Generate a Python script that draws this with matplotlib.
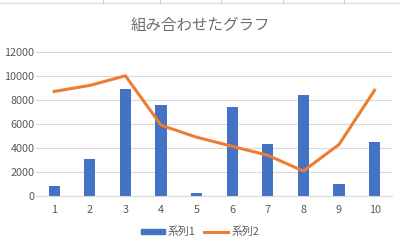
import matplotlib
matplotlib.use("Agg")
import matplotlib.pyplot as plt
from matplotlib.lines import Line2D

plt.rcParams['font.family'] = ['Noto Sans CJK JP', 'DejaVu Sans']

categories = [1, 2, 3, 4, 5, 6, 7, 8, 9, 10]
series1 = [850, 3100, 8900, 7600, 300, 7400, 4300, 8400, 1000, 4500]
series2 = [8700, 9200, 10000, 5900, 4900, 4150, 3400, 2100, 4300, 8800]
yticks = [0, 2000, 4000, 6000, 8000, 10000, 12000]

blue = '#4472c4'
orange = '#ed7d31'
text_gray = '#595959'

fig = plt.figure(figsize=(4, 2.46), dpi=100)
ax = fig.add_axes([0.091, 0.202, 0.890, 0.588])

ax.bar(categories, series1, width=0.32, color=blue, label='系列1', zorder=2)
ax.plot(categories, series2, color=orange, linewidth=2.2, label='系列2', zorder=3)

ax.set_xlim(0.5, 10.5)
ax.set_ylim(0, 12000)
ax.set_xticks(categories)
ax.set_xticklabels([str(c) for c in categories])
ax.set_yticks(yticks)
ax.set_yticklabels([str(v) for v in yticks])
ax.grid(axis='y', color='#d9d9d9', linewidth=0.8, zorder=0)
ax.set_axisbelow(True)
for s in ['top', 'right', 'left']:
    ax.spines[s].set_visible(False)
ax.spines['bottom'].set_color('#d9d9d9')
ax.tick_params(axis='both', length=0, labelsize=7.8, colors=text_gray)
ax.tick_params(axis='y', pad=1.5)
ax.tick_params(axis='x', pad=6.5)

fig.text(0.5, 0.895, '組み合わせたグラフ', ha='center', va='center',
         fontsize=11.2, color='#6e6e6e')

handles = [plt.Rectangle((0, 0), 1, 1, color=blue),
           Line2D([0], [0], color=orange, linewidth=2.2)]
fig.legend(handles, ['系列1', '系列2'], loc='center', bbox_to_anchor=(0.5, 0.057),
           ncol=2, frameon=False, fontsize=7.8, handlelength=2.2, handleheight=0.4,
           handletextpad=0.3, columnspacing=0.8, labelcolor=text_gray)

# Excel cell grid strip at the top
fig.add_artist(Line2D([0, 1], [0.988, 0.988], color='#e0e0e0', linewidth=1))
for xp in [103, 160, 221, 283, 344]:
    fig.add_artist(Line2D([xp / 400, xp / 400], [0.988, 1.0], color='#d0d0d0', linewidth=0.8))

fig.savefig('out.png', dpi=100)
